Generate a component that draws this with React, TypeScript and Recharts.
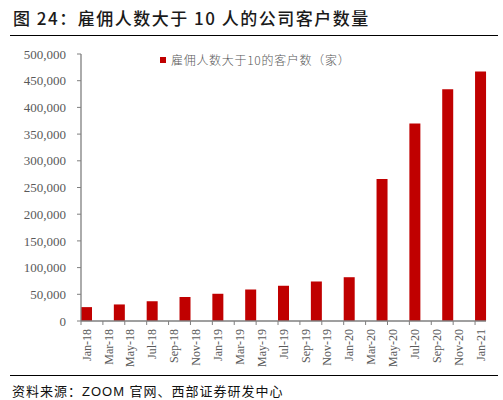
import React from 'react';
import { BarChart, Bar, XAxis, YAxis } from 'recharts';

// ---- data ----
const monthLabels = [
  'Jan-18', 'Feb-18', 'Mar-18', 'Apr-18', 'May-18', 'Jun-18', 'Jul-18', 'Aug-18', 'Sep-18', 'Oct-18', 'Nov-18', 'Dec-18',
  'Jan-19', 'Feb-19', 'Mar-19', 'Apr-19', 'May-19', 'Jun-19', 'Jul-19', 'Aug-19', 'Sep-19', 'Oct-19', 'Nov-19', 'Dec-19',
  'Jan-20', 'Feb-20', 'Mar-20', 'Apr-20', 'May-20', 'Jun-20', 'Jul-20', 'Aug-20', 'Sep-20', 'Oct-20', 'Nov-20', 'Dec-20',
  'Jan-21',
];
const quarterLabels = [
  'Jan-18', 'Apr-18', 'Jul-18', 'Oct-18', 'Jan-19', 'Apr-19', 'Jul-19', 'Oct-19',
  'Jan-20', 'Apr-20', 'Jul-20', 'Oct-20', 'Jan-21',
];
const clientCounts = [
  26000, 31000, 37000, 45000, 51000, 59000, 66000, 74000,
  82000, 266000, 370000, 434000, 467000,
];
const yTicks = [0, 50000, 100000, 150000, 200000, 250000, 300000, 350000, 400000, 450000, 500000];

const TITLE = '图 24：雇佣人数大于 10 人的公司客户数量';
const SERIES_NAME = '雇佣人数大于10的客户数（家）';
const SOURCE = '资料来源：ZOOM 官网、西部证券研发中心';

const tableData = monthLabels.map((m) => {
  const idx = quarterLabels.indexOf(m);
  return { month: m, value: idx >= 0 ? clientCounts[idx] : null };
});

// ---- layout ----
const CHART_W = 503;
const CHART_H = 400;
const MARGIN = { top: 54, right: 17, bottom: 29, left: 10 };
const Y_AXIS_W = 71;
const X_AXIS_H = 50;
const PLOT_LEFT = MARGIN.left + Y_AXIS_W;
const PLOT_RIGHT = CHART_W - MARGIN.right;
const PLOT_BOTTOM = CHART_H - MARGIN.bottom - X_AXIS_H;
const BAND = (PLOT_RIGHT - PLOT_LEFT) / monthLabels.length;

const BAR_COLOR = '#C00000';
const AXIS_COLOR = '#7F7F7F';
const TEXT_COLOR = '#595959';
const SERIF = "'Liberation Serif', 'Times New Roman', serif";

const MonthTick = (props: any) => {
  const { x, payload } = props;
  const lx = x - BAND / 2;
  return (
    <g>
      <line x1={lx} y1={PLOT_BOTTOM} x2={lx} y2={PLOT_BOTTOM + 4} stroke={AXIS_COLOR} strokeWidth={1} />
      <text
        transform={`translate(${x},${PLOT_BOTTOM + 8}) rotate(-90)`}
        textAnchor="end"
        dy="0.35em"
        fontSize={12}
        fontFamily={SERIF}
        fill={TEXT_COLOR}
      >
        {payload.value}
      </text>
    </g>
  );
};

export default function App() {
  return (
    <div style={{ position: 'absolute', left: 0, top: 0, width: CHART_W, height: CHART_H, background: '#fff' }}>
      <div
        style={{
          position: 'absolute',
          left: 13,
          top: 7,
          lineHeight: '22px',
          fontSize: 17,
          fontWeight: 500,
          letterSpacing: '1.5px',
          fontFamily: "'Noto Sans CJK SC', sans-serif",
          color: '#1a1a1a',
          whiteSpace: 'nowrap',
        }}
      >
        {TITLE}
      </div>
      <div style={{ position: 'absolute', left: 10, top: 35, width: 488, height: 1, background: '#000' }} />

      <BarChart width={CHART_W} height={CHART_H} data={tableData} margin={MARGIN} barCategoryGap={0} barGap={0}>
        <XAxis
          dataKey="month"
          interval={1}
          height={X_AXIS_H}
          tickLine={false}
          axisLine={{ stroke: AXIS_COLOR, strokeWidth: 1.3 }}
          tick={<MonthTick />}
        />
        <YAxis
          type="number"
          domain={[0, 500000]}
          ticks={yTicks}
          width={Y_AXIS_W}
          tickSize={4}
          tickMargin={11}
          tickLine={{ stroke: AXIS_COLOR }}
          axisLine={{ stroke: AXIS_COLOR, strokeWidth: 1.3 }}
          tick={{ fontSize: 13, fontFamily: SERIF, fill: TEXT_COLOR }}
          tickFormatter={(v: number) => v.toLocaleString('en-US')}
        />
        <Bar dataKey="value" name={SERIES_NAME} fill={BAR_COLOR} isAnimationActive={false} />
      </BarChart>

      <div
        style={{
          position: 'absolute',
          left: 160,
          top: 52,
          height: 16,
          display: 'flex',
          alignItems: 'center',
          whiteSpace: 'nowrap',
        }}
      >
        <span style={{ display: 'inline-block', width: 6, height: 6, background: BAR_COLOR, marginRight: 5 }} />
        <span
          style={{
            fontSize: 12,
            lineHeight: '16px',
            letterSpacing: '0.7px',
            fontFamily: "'Noto Sans CJK SC', serif",
            fontWeight: 300,
            color: TEXT_COLOR,
          }}
        >
          {SERIES_NAME}
        </span>
      </div>

      <div style={{ position: 'absolute', left: 10, top: 375, width: 488, height: 1, background: '#000' }} />
      <div
        style={{
          position: 'absolute',
          left: 12,
          top: 383,
          lineHeight: '18px',
          fontSize: 13,
          letterSpacing: '1px',
          fontFamily: "'Liberation Sans', 'Noto Sans CJK SC', sans-serif",
          color: '#111',
          whiteSpace: 'nowrap',
        }}
      >
        {SOURCE}
      </div>
    </div>
  );
}
